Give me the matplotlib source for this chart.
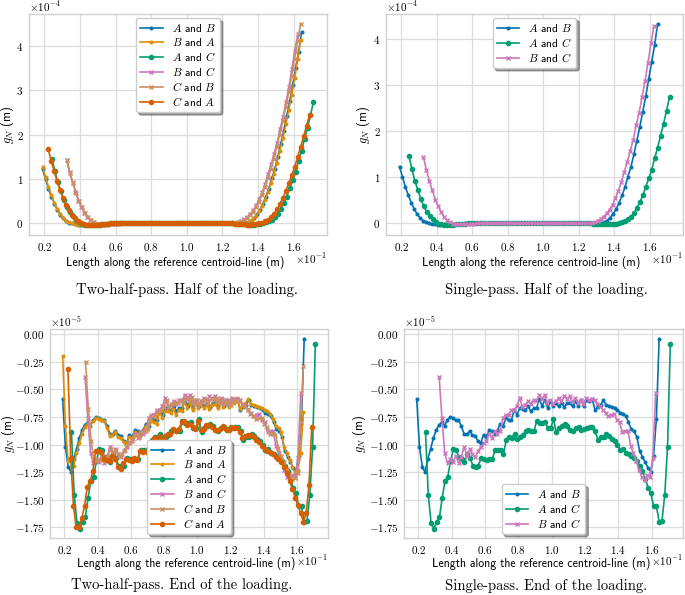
import numpy as np
import matplotlib
matplotlib.use("Agg")
import matplotlib.pyplot as plt
from matplotlib.ticker import FuncFormatter, MultipleLocator

# ---------------- data (x in units of 1e-1 m) ----------------
xr_AB = [0.190, 1.645]
xr_BA = [0.190, 1.640]
xr_AC = [0.243, 1.712]
xr_BC = [0.325, 1.624]
xr_CB = [0.328, 1.640]
xr_CA = [0.222, 1.690]

# half of the loading (units of 1e-4 m)
yh_AB = [1.225, 1.00, 0.78, 0.60, 0.44, 0.30, 0.19, 0.11, 0.05, 0.015,
         -0.005, -0.02, -0.03, -0.035, -0.035, -0.03, -0.03, -0.025, -0.02, -0.015,
         -0.01, -0.01, -0.005, -0.005, -0.005, 0.0, 0.0, 0.0, 0.0, 0.0,
         0.0, 0.0, 0.0, 0.0, 0.0, 0.0, 0.0, 0.0, 0.0, 0.0,
         0.0, 0.0, 0.0, 0.0, 0.0, 0.0, 0.0, 0.0, 0.0, 0.0,
         0.0, 0.0, 0.0, 0.0, 0.0, 0.0, 0.0, 0.0, 0.0, 0.0,
         0.0, 0.0, 0.0, 0.0, 0.0, 0.0, 0.0, 0.0, 0.003, 0.02,
         0.055, 0.12, 0.20, 0.30, 0.44, 0.60, 0.78, 1.01, 1.22, 1.49,
         1.79, 2.09, 2.42, 2.75, 3.13, 3.50, 3.87, 4.32]
yh_BA = [1.28, 1.04, 0.82, 0.63, 0.46, 0.32, 0.21, 0.12, 0.06, 0.02,
         0.0, -0.02, -0.03, -0.035, -0.035, -0.03, -0.03, -0.025, -0.02, -0.015,
         -0.01, -0.01, -0.005, -0.005, 0.0, 0.0, 0.0, 0.0, 0.0, 0.0,
         0.0, 0.0, 0.0, 0.0, 0.0, 0.0, 0.0, 0.0, 0.0, 0.0,
         0.0, 0.0, 0.0, 0.0, 0.0, 0.0, 0.0, 0.0, 0.0, 0.0,
         0.0, 0.0, 0.0, 0.0, 0.0, 0.0, 0.0, 0.0, 0.0, 0.0,
         0.0, 0.0, 0.0, 0.0, 0.0, 0.0, 0.0, 0.0, 0.0, 0.015,
         0.045, 0.10, 0.17, 0.27, 0.39, 0.53, 0.70, 0.90, 1.12, 1.37,
         1.64, 1.92, 2.23, 2.55, 2.90, 3.28, 3.70, 4.13]
yh_AC = [1.46, 1.17, 0.92, 0.72, 0.53, 0.37, 0.25, 0.16, 0.08, 0.03,
         -0.01, -0.03, -0.035, -0.04, -0.04, -0.035, -0.03, -0.02, -0.015, -0.01,
         -0.005, -0.005, 0.0, 0.0, 0.0, 0.0, 0.0, 0.0, 0.0, 0.0,
         0.0, 0.0, 0.0, 0.0, 0.0, 0.0, 0.0, 0.0, 0.0, 0.0,
         0.0, 0.0, 0.0, 0.0, 0.0, 0.0, 0.0, 0.0, 0.0, 0.0,
         0.0, 0.0, 0.0, 0.0, 0.0, 0.0, 0.0, 0.0, 0.0, 0.0,
         0.0, -0.005, -0.01, -0.015, -0.02, -0.025, -0.03, -0.03, -0.03, -0.02,
         -0.015, 0.0, 0.02, 0.04, 0.08, 0.14, 0.21, 0.33, 0.46, 0.60,
         0.79, 0.97, 1.16, 1.41, 1.64, 1.90, 2.16, 2.44, 2.74]
yh_BC = [1.43, 1.15, 0.92, 0.71, 0.51, 0.37, 0.24, 0.14, 0.07, 0.02,
         -0.01, -0.02, -0.03, -0.03, -0.025, -0.02, -0.015, -0.01, -0.005, -0.005,
         0.0, 0.0, 0.0, 0.0, 0.0, 0.0, 0.0, 0.0, 0.0, 0.0,
         0.0, 0.0, 0.0, 0.0, 0.0, 0.0, 0.0, 0.0, 0.0, 0.0,
         0.0, 0.0, 0.0, 0.0, 0.0, 0.0, 0.0, 0.0, 0.0, 0.0,
         0.0, 0.0, 0.0, 0.0, 0.0, 0.0, 0.0, 0.01, 0.025, 0.055,
         0.09, 0.14, 0.21, 0.29, 0.40, 0.55, 0.70, 0.89, 1.12, 1.33,
         1.57, 1.81, 2.12, 2.40, 2.73, 3.08, 3.48, 3.90, 4.27]
yh_CB = [1.42, 1.13, 0.90, 0.69, 0.50, 0.36, 0.23, 0.135, 0.065, 0.02,
         -0.01, -0.02, -0.03, -0.03, -0.025, -0.02, -0.015, -0.01, -0.005, -0.005,
         0.0, 0.0, 0.0, 0.0, 0.0, 0.0, 0.0, 0.0, 0.0, 0.0,
         0.0, 0.0, 0.0, 0.0, 0.0, 0.0, 0.0, 0.0, 0.0, 0.0,
         0.0, 0.0, 0.0, 0.0, 0.0, 0.0, 0.0, 0.0, 0.0, 0.0,
         0.0, 0.0, 0.0, 0.0, 0.0, 0.0, 0.005, 0.02, 0.045, 0.075,
         0.12, 0.18, 0.26, 0.36, 0.49, 0.64, 0.81, 1.01, 1.23, 1.46,
         1.72, 2.00, 2.30, 2.62, 2.96, 3.33, 3.72, 4.12, 4.50]
yh_CA = [1.67, 1.41, 1.17, 0.95, 0.75, 0.57, 0.41, 0.29, 0.18, 0.11,
         0.05, 0.01, -0.02, -0.035, -0.04, -0.04, -0.035, -0.03, -0.02, -0.015,
         -0.01, -0.005, -0.005, 0.0, 0.0, 0.0, 0.0, 0.0, 0.0, 0.0,
         0.0, 0.0, 0.0, 0.0, 0.0, 0.0, 0.0, 0.0, 0.0, 0.0,
         0.0, 0.0, 0.0, 0.0, 0.0, 0.0, 0.0, 0.0, 0.0, 0.0,
         0.0, 0.0, 0.0, 0.0, 0.0, 0.0, 0.0, 0.0, 0.0, 0.0,
         0.0, 0.0, 0.0, -0.01, -0.015, -0.02, -0.025, -0.03, -0.03, -0.025,
         -0.015, 0.0, 0.015, 0.04, 0.075, 0.13, 0.21, 0.31, 0.43, 0.57,
         0.73, 0.90, 1.08, 1.28, 1.49, 1.72, 1.96, 2.20, 2.45]

# end of the loading (units of 1e-5 m)
ye_AB = [-0.585, -1.02, -1.20, -1.25, -1.13, -1.04, -0.94, -0.87, -0.82, -0.80,
         -0.83, -0.78, -0.75, -0.76, -0.78, -0.78, -0.83, -0.905, -0.905, -0.88,
         -0.915, -0.92, -0.97, -0.99, -0.91, -0.93, -0.87, -0.88, -0.90, -0.87,
         -0.81, -0.835, -0.76, -0.78, -0.78, -0.685, -0.73, -0.67, -0.68, -0.685,
         -0.655, -0.70, -0.67, -0.67, -0.59, -0.65, -0.595, -0.67, -0.61, -0.65,
         -0.625, -0.655, -0.625, -0.66, -0.625, -0.62, -0.655, -0.61, -0.65, -0.595,
         -0.65, -0.60, -0.61, -0.59, -0.69, -0.66, -0.64, -0.60, -0.64, -0.65,
         -0.66, -0.67, -0.69, -0.71, -0.72, -0.74, -0.80, -0.86, -0.88, -0.93,
         -1.06, -1.11, -1.16, -1.21, -1.245, -1.10, -0.77, -0.04]
ye_BA = [-0.195, -0.83, -1.15, -1.15, -1.19, -1.08, -0.99, -0.90, -0.84, -0.81,
         -0.83, -0.79, -0.76, -0.77, -0.78, -0.79, -0.85, -0.92, -0.91, -0.89,
         -0.93, -0.94, -0.98, -1.00, -0.93, -0.95, -0.89, -0.90, -0.92, -0.89,
         -0.83, -0.86, -0.79, -0.80, -0.81, -0.71, -0.76, -0.70, -0.70, -0.71,
         -0.68, -0.73, -0.69, -0.70, -0.61, -0.67, -0.62, -0.69, -0.63, -0.67,
         -0.64, -0.67, -0.64, -0.68, -0.64, -0.63, -0.67, -0.62, -0.66, -0.61,
         -0.66, -0.61, -0.62, -0.58, -0.68, -0.65, -0.63, -0.59, -0.63, -0.64,
         -0.65, -0.66, -0.67, -0.69, -0.70, -0.72, -0.77, -0.83, -0.85, -0.89,
         -1.02, -1.08, -1.14, -1.20, -1.26, -1.23, -1.08, -0.705]
ye_AC = [-0.89, -1.46, -1.71, -1.76, -1.70, -1.66, -1.48, -1.33, -1.29, -1.15,
         -1.04, -1.05, -1.11, -1.13, -1.16, -1.09, -1.12, -1.19, -1.20, -1.19,
         -1.12, -1.13, -1.14, -1.13, -1.13, -1.05, -1.05, -1.05, -1.09, -0.96,
         -0.93, -0.94, -0.90, -0.95, -0.93, -0.91, -0.88, -0.87, -0.875, -0.875,
         -0.79, -0.805, -0.805, -0.80, -0.85, -0.85, -0.77, -0.89, -0.85, -0.83,
         -0.81, -0.835, -0.865, -0.88, -0.85, -0.84, -0.87, -0.86, -0.85, -0.84,
         -0.84, -0.88, -0.96, -0.93, -0.93, -0.90, -0.92, -0.95, -0.97, -1.00,
         -1.05, -1.04, -1.08, -1.09, -1.10, -1.12, -1.15, -1.19, -1.24, -1.31,
         -1.39, -1.44, -1.56, -1.56, -1.70, -1.69, -1.455, -1.02, -0.09]
ye_BC = [-0.39, -0.76, -1.08, -1.17, -1.13, -1.16, -1.10, -1.17, -1.11, -1.02,
         -1.10, -1.04, -1.09, -1.11, -1.06, -1.02, -0.99, -0.97, -0.90, -0.94,
         -0.88, -0.90, -0.88, -0.76, -0.73, -0.73, -0.685, -0.685, -0.65, -0.58,
         -0.66, -0.64, -0.61, -0.63, -0.595, -0.61, -0.55, -0.59, -0.55, -0.625,
         -0.595, -0.63, -0.61, -0.58, -0.61, -0.565, -0.585, -0.565, -0.61, -0.58,
         -0.625, -0.595, -0.63, -0.58, -0.595, -0.59, -0.60, -0.63, -0.65, -0.69,
         -0.71, -0.745, -0.73, -0.72, -0.775, -0.80, -0.89, -0.88, -0.875, -1.01,
         -1.08, -1.15, -1.23, -1.29, -1.32, -1.28, -1.29, -1.12, -0.535]
ye_CB = [-0.256, -0.68, -0.97, -1.14, -1.15, -1.14, -1.09, -1.15, -1.10, -1.04,
         -1.08, -1.05, -1.10, -1.09, -1.05, -1.00, -0.98, -0.95, -0.91, -0.93,
         -0.89, -0.89, -0.86, -0.78, -0.74, -0.75, -0.70, -0.69, -0.66, -0.60,
         -0.66, -0.63, -0.62, -0.62, -0.60, -0.62, -0.57, -0.60, -0.57, -0.63,
         -0.60, -0.64, -0.61, -0.59, -0.62, -0.58, -0.60, -0.58, -0.62, -0.59,
         -0.63, -0.60, -0.64, -0.59, -0.61, -0.61, -0.63, -0.66, -0.68, -0.72,
         -0.74, -0.77, -0.76, -0.76, -0.81, -0.84, -0.90, -0.90, -0.91, -1.03,
         -1.10, -1.16, -1.22, -1.27, -1.31, -1.30, -1.26, -0.80, -0.29]
ye_CA = [-0.317, -1.12, -1.56, -1.75, -1.75, -1.665, -1.555, -1.38, -1.33, -1.24,
         -1.06, -1.06, -1.07, -1.13, -1.14, -1.15, -1.10, -1.13, -1.20, -1.22,
         -1.17, -1.13, -1.14, -1.15, -1.12, -1.14, -1.06, -1.07, -1.06, -1.08,
         -0.98, -0.94, -0.95, -0.92, -0.96, -0.92, -0.90, -0.90, -0.86, -0.88,
         -0.86, -0.80, -0.79, -0.82, -0.81, -0.84, -0.86, -0.79, -0.87, -0.86,
         -0.82, -0.82, -0.84, -0.87, -0.87, -0.86, -0.83, -0.86, -0.87, -0.84,
         -0.85, -0.85, -0.89, -0.94, -0.92, -0.91, -0.91, -0.93, -0.96, -0.98,
         -1.01, -1.04, -1.06, -1.07, -1.09, -1.11, -1.13, -1.16, -1.20, -1.26,
         -1.33, -1.40, -1.48, -1.55, -1.62, -1.70, -1.62, -1.37, -0.845]

labels = {"AB": r"$A$ and $B$", "BA": r"$B$ and $A$", "AC": r"$A$ and $C$",
          "BC": r"$B$ and $C$", "CB": r"$C$ and $B$", "CA": r"$C$ and $A$"}
captions = ["Two-half-pass. Half of the loading.", "Single-pass. Half of the loading.",
            "Two-half-pass. End of the loading.", "Single-pass. End of the loading."]

xr = {"AB": xr_AB, "BA": xr_BA, "AC": xr_AC, "BC": xr_BC, "CB": xr_CB, "CA": xr_CA}
yh = {"AB": yh_AB, "BA": yh_BA, "AC": yh_AC, "BC": yh_BC, "CB": yh_CB, "CA": yh_CA}
ye = {"AB": ye_AB, "BA": ye_BA, "AC": ye_AC, "BC": ye_BC, "CB": ye_CB, "CA": ye_CA}

# ---------------- style ----------------
plt.rcParams.update({
    "mathtext.fontset": "cm",
    "font.family": ["cmss10", "DejaVu Sans"],
    "axes.unicode_minus": False,
    "axes.edgecolor": "#d0d0d0",
    "axes.linewidth": 1.0,
    "grid.color": "#dcdcdc",
    "grid.linewidth": 0.9,
})

sty = {
    "AB": dict(color="#0173b2", marker=".", ms=3.8),
    "BA": dict(color="#de8f05", marker=".", ms=3.8),
    "AC": dict(color="#029e73", marker="o", ms=3.0),
    "BC": dict(color="#cc78bc", marker="x", ms=3.3, mew=1.0),
    "CB": dict(color="#ca9161", marker="x", ms=3.3, mew=1.0),
    "CA": dict(color="#d55e00", marker="o", ms=3.0),
}

W, H = 685, 595
fig = plt.figure(figsize=(W / 100, H / 100), dpi=100)


def box(l, t, r, b):
    return [l / W, 1 - b / H, (r - l) / W, (b - t) / H]


axes = [fig.add_axes(box(29, 14, 327, 235)),
        fig.add_axes(box(386, 14, 683, 235)),
        fig.add_axes(box(50, 329, 328, 538)),
        fig.add_axes(box(404, 329, 683, 538))]

panels = [(axes[0], yh, ["AB", "BA", "AC", "BC", "CB", "CA"], "upper center", True, -0.042),
          (axes[1], yh, ["AB", "AC", "BC"], "upper center", True, -0.047),
          (axes[2], ye, ["AB", "BA", "AC", "BC", "CB", "CA"], "lower center", False, -0.120),
          (axes[3], ye, ["AB", "AC", "BC"], "lower center", False, -0.128)]

for ax, data, keys, loc, top, ylx in panels:
    for k in keys:
        y = data[k]
        x = np.linspace(xr[k][0], xr[k][1], len(y))
        ax.plot(x, y, lw=1.2, label=labels[k], **sty[k])
    ax.grid(True)
    ax.set_axisbelow(True)
    ax.tick_params(length=0, labelsize=8, pad=4)
    ax.xaxis.set_major_locator(MultipleLocator(0.2))
    ax.xaxis.set_major_formatter(FuncFormatter(lambda v, p: "$%.1f$" % v))
    if top:
        ax.yaxis.set_major_locator(MultipleLocator(1))
        ax.yaxis.set_major_formatter(FuncFormatter(lambda v, p: "$%d$" % round(v)))
        exp = r"$\times10^{-4}$"
    else:
        ax.yaxis.set_major_locator(MultipleLocator(0.25))
        ax.yaxis.set_major_formatter(FuncFormatter(
            lambda v, p: "$0.00$" if abs(v) < 1e-9 else "$%.2f$" % v))
        exp = r"$\times10^{-5}$"
    ax.text(0.0, 1.0, exp, transform=ax.transAxes, ha="left", va="bottom", fontsize=8)
    ax.text(1.0, -0.075, r"$\times10^{-1}$", transform=ax.transAxes, ha="right",
            va="top", fontsize=8)
    ax.set_xlabel("Length along the reference centroid-line (m)", fontsize=8.5)
    ax.xaxis.set_label_coords(0.49, -0.093)
    ax.set_ylabel(r"$g_N$ (m)", fontsize=9)
    ax.yaxis.set_label_coords(ylx, 0.5)
    ax.legend(loc=loc, fontsize=8.2, fancybox=True, shadow=True, framealpha=1,
              edgecolor="#cccccc", labelspacing=0.18, borderaxespad=0.35,
              handlelength=2.0, borderpad=0.35)

cap_pos = [(187, 290), (546, 290), (182, 585), (546, 586)]
for (cx, cy), txt in zip(cap_pos, captions):
    fig.text(cx / W, 1 - cy / H, txt, ha="center", va="center", fontsize=10.5,
             family=["cmr10", "DejaVu Serif"])

fig.savefig("out.png", dpi=100)
